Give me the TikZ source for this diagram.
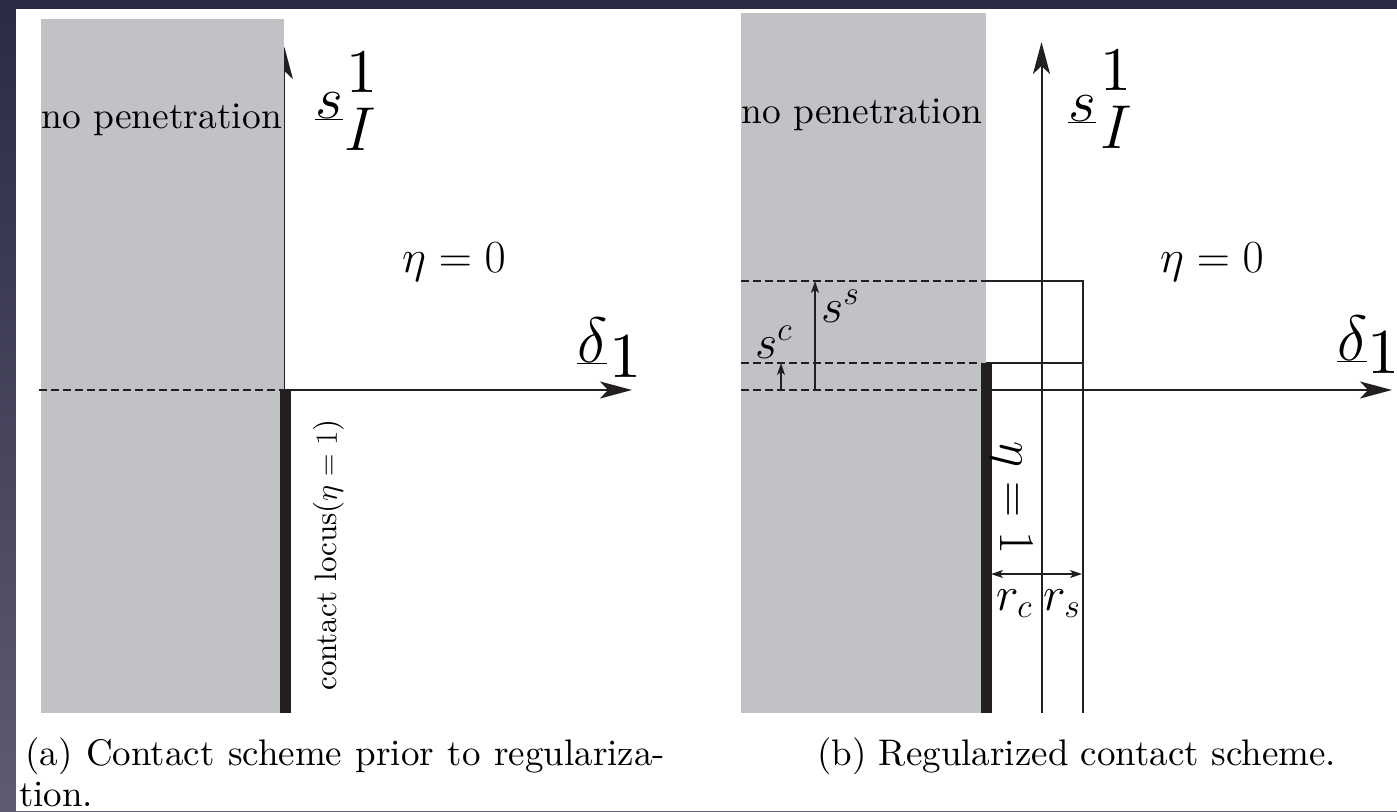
\documentclass[tikz,border=0pt]{standalone}
\usepackage{fix-cm}
\usepackage{fontspec}
\newfontfamily\tenrm{lmroman10-regular.otf}
\usetikzlibrary{arrows.meta}
\definecolor{bgtop}{HTML}{2B2B45}
\definecolor{bgbot}{HTML}{5E5C71}
\definecolor{slab}{HTML}{C1C2C6}
\definecolor{ink}{HTML}{231F20}
\begin{document}
\begin{tikzpicture}[x=1pt,y=-1pt,
  axis/.style={line width=2pt, draw=ink, -{Stealth[length=32pt,width=17pt,inset=8pt]}},
  thinline/.style={line width=1.8pt, draw=ink},
  dashline/.style={line width=1.8pt, draw=ink, dash pattern=on 8pt off 4pt},
  dim/.style={line width=1.2pt, draw=ink, -{Stealth[length=12pt,width=8pt,inset=3pt]}},
  dimboth/.style={line width=1.2pt, draw=ink, {Stealth[length=12pt,width=8pt,inset=3pt]}-{Stealth[length=12pt,width=8pt,inset=3pt]}},
  bar/.style={line width=10.5pt, draw=ink},
  txt/.style={inner sep=0pt, text=black, font=\tenrm\fontsize{37}{44}\selectfont},
  ml/.style={inner sep=0pt, text=black, font=\tenrm\fontsize{48}{58}\selectfont},
  bl/.style={inner sep=0pt, text=black, font=\tenrm\fontsize{62}{74}\selectfont},
  loc/.style={inner sep=0pt, text=black, font=\tenrm\fontsize{31}{37}\selectfont}]
\useasboundingbox (0,0) rectangle (1397,811);
\shade[top color=bgtop,bottom color=bgbot] (0,0) rectangle (1397,811);
\fill[white] (15.5,9) rectangle (1397,811);

% ---------- panel (a)
\coordinate (aO) at (284.4,390);
\coordinate (aTop) at (284.4,47);
\coordinate (aX) at (632,390);
\coordinate (aDL) at (39,390);
\coordinate (aBarT) at (285.5,390);
\coordinate (aBarB) at (285.5,713);
\draw[axis] (aO) -- (aTop);
\fill[slab] (41,19) rectangle (283.9,713);
\draw[dashline] (aDL) -- (aO);
\draw[axis] (aO) -- (aX);
\draw[bar] (aBarT) -- (aBarB);

\node[txt, anchor=base west, font=\tenrm\fontsize{37.5}{45}\selectfont] (anp) at (41,128) {no penetration};
\node[bl, anchor=base west, font=\tenrm\fontsize{60}{72}\selectfont] (as) at (315,118) {$\underline{s}$};
\node[bl, anchor=base west] (a1) at (346,92) {1};
\node[bl, anchor=base west] (aI) at (344,150) {$I$};
\node[ml, anchor=base west, font=\tenrm\fontsize{46}{55}\selectfont] (aeta) at (402,272) {$\eta=0$};
\node[bl, anchor=base west, font=\tenrm\fontsize{64}{77}\selectfont] (ad) at (577,362) {$\underline{\delta}$};
\node[bl, anchor=base west, font=\tenrm\fontsize{64}{77}\selectfont] (ad1) at (609,377) {1};
\node[loc, rotate=90] (aloc) at (329,555) {contact locus($\eta=1$)};

% ---------- panel (b)
\coordinate (bO) at (1041.5,390);
\coordinate (bTop) at (1041.5,42);
\coordinate (bBot) at (1041.5,713);
\coordinate (bX) at (1392,390);
\coordinate (bL1) at (741,281);
\coordinate (bL2) at (741,363);
\coordinate (bL3) at (741,390);
\coordinate (bG1) at (986,281);
\coordinate (bG2) at (981,363);
\coordinate (bG2s) at (986,363);
\coordinate (bG3) at (981,390);
\coordinate (bG3s) at (986,390);
\coordinate (bR1) at (1082.6,281);
\coordinate (bR2) at (1082.6,363);
\coordinate (bRB) at (1082.6,713);
\coordinate (bBarT) at (986.5,363);
\coordinate (bBarB) at (986.5,713);
\coordinate (ssB) at (815,390);
\coordinate (ssT) at (815,281);
\coordinate (scB) at (781,390);
\coordinate (scT) at (781,363);
\coordinate (rL) at (991,574);
\coordinate (rR) at (1082,574);

\fill[slab] (741,13) rectangle (986,713);
\draw[dashline] (bL1) -- (bG1);
\draw[dashline] (bL2) -- (bG2);
\draw[dashline] (bL3) -- (bG3);
\draw[thinline] (bG1) -- (bR1) -- (bRB);
\draw[thinline] (bG2s) -- (bR2);
\draw[axis] (bG3s) -- (bX);
\draw[axis] (bBot) -- (bTop);
\draw[bar] (bBarT) -- (bBarB);
\draw[dim] (ssB) -- (ssT);
\draw[dim] (scB) -- (scT);
\draw[dimboth] (rL) -- (rR);

\node[txt, anchor=base west, font=\tenrm\fontsize{37.5}{45}\selectfont] (bnp) at (741,123) {no penetration};
\node[bl, anchor=base west, font=\tenrm\fontsize{60}{72}\selectfont] (bs) at (1068,121) {$\underline{s}$};
\node[bl, anchor=base west] (b1) at (1100,90) {1};
\node[bl, anchor=base west] (bI) at (1100,148) {$I$};
\node[ml, anchor=base west, font=\tenrm\fontsize{46}{55}\selectfont] (beta) at (1160,272) {$\eta=0$};
\node[bl, anchor=base west, font=\tenrm\fontsize{64}{77}\selectfont] (bd) at (1337,360) {$\underline{\delta}$};
\node[bl, anchor=base west, font=\tenrm\fontsize{64}{77}\selectfont] (bd1) at (1367,373) {1};
\node[ml, anchor=base west] (bss) at (821,322) {$s^s$};
\node[ml, anchor=base west] (bsc) at (755,358) {$s^c$};
\node[ml, rotate=-90, font=\tenrm\fontsize{50}{60}\selectfont] (beta1) at (1012,498) {$\eta=1$};
\node[ml, anchor=base west] (brc) at (996,610) {$r_c$};
\node[ml, anchor=base west] (brs) at (1043,610) {$r_s$};

% ---------- captions
\node[txt, anchor=base west] (capa1) at (25,765) {\hbox to 640pt{(a) Contact scheme prior to regulariza-}};
\node[txt, anchor=base west] (capa2) at (19,806) {tion.};
\node[txt, anchor=base west] (capb) at (817,765) {(b) Regularized contact scheme.};
\end{tikzpicture}
\end{document}
